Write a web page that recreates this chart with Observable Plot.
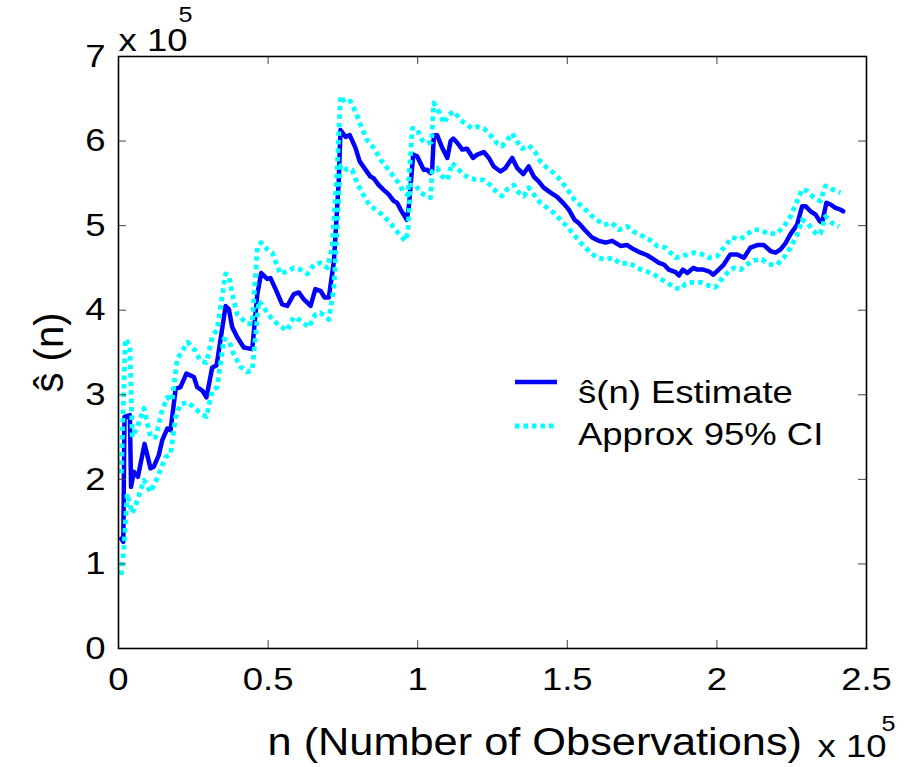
<!DOCTYPE html>
<html>
<head>
<meta charset="utf-8">
<script src="https://cdn.jsdelivr.net/npm/d3@7"></script>
<script src="https://cdn.jsdelivr.net/npm/@observablehq/plot@0.6"></script>
<style>
  html, body { margin: 0; padding: 0; background: #fff; }
  svg { display: block; }
</style>
</head>
<body>
<div id="chart"></div>
<script>
// ---- data (n in units of 1e5, s in units of 1e5) ----
const estN = [0.009,0.016,0.020,0.038,0.042,0.051,0.065,0.087,0.107,0.118,0.135,0.146,0.163,0.174,0.191,0.207,0.227,0.252,0.263,0.280,0.294,0.313,0.328,0.358,0.369,0.380,0.397,0.419,0.447,0.464,0.477,0.497,0.508,0.525,0.547,0.564,0.586,0.603,0.619,0.642,0.658,0.675,0.689,0.703,0.720,0.736,0.742,0.759,0.773,0.792,0.806,0.826,0.842,0.853,0.870,0.887,0.903,0.920,0.931,0.943,0.963,0.970,0.985,0.998,1.009,1.020,1.032,1.043,1.048,1.054,1.065,1.082,1.099,1.110,1.119,1.132,1.149,1.165,1.185,1.199,1.221,1.238,1.254,1.277,1.293,1.316,1.333,1.353,1.371,1.388,1.405,1.421,1.444,1.466,1.488,1.505,1.524,1.538,1.561,1.583,1.605,1.628,1.650,1.678,1.700,1.722,1.745,1.767,1.789,1.806,1.823,1.839,1.862,1.873,1.886,1.901,1.921,1.934,1.954,1.973,1.988,2.006,2.023,2.045,2.068,2.090,2.112,2.135,2.157,2.179,2.196,2.213,2.229,2.246,2.268,2.285,2.296,2.313,2.330,2.344,2.352,2.366,2.380,2.396,2.413,2.422];
const estS = [1.30,1.26,2.74,2.76,1.91,2.09,2.03,2.42,2.13,2.15,2.29,2.46,2.60,2.58,3.07,3.09,3.25,3.21,3.09,3.05,2.97,3.32,3.35,4.05,4.01,3.80,3.68,3.56,3.54,4.19,4.44,4.37,4.38,4.25,4.07,4.05,4.19,4.21,4.13,4.05,4.25,4.23,4.15,4.15,4.58,5.52,6.13,6.05,6.07,5.92,5.76,5.66,5.58,5.56,5.48,5.42,5.37,5.29,5.27,5.19,5.07,5.21,5.84,5.82,5.74,5.66,5.66,5.62,5.64,6.07,6.07,5.92,5.80,6.00,6.03,5.98,5.90,5.91,5.80,5.84,5.87,5.80,5.70,5.64,5.68,5.80,5.68,5.61,5.70,5.58,5.52,5.45,5.39,5.34,5.26,5.19,5.07,5.03,4.94,4.86,4.82,4.80,4.82,4.76,4.77,4.72,4.68,4.65,4.60,4.56,4.54,4.48,4.45,4.41,4.48,4.44,4.50,4.48,4.48,4.46,4.42,4.48,4.54,4.66,4.66,4.62,4.74,4.77,4.77,4.70,4.68,4.72,4.79,4.90,5.01,5.23,5.23,5.17,5.13,5.05,5.04,5.27,5.25,5.21,5.19,5.17];

const upN = [0.009,0.023,0.038,0.046,0.063,0.085,0.107,0.124,0.146,0.163,0.179,0.196,0.213,0.232,0.257,0.274,0.294,0.313,0.330,0.358,0.369,0.380,0.397,0.430,0.447,0.464,0.477,0.497,0.514,0.541,0.564,0.586,0.608,0.631,0.653,0.675,0.698,0.714,0.731,0.742,0.759,0.775,0.792,0.809,0.831,0.853,0.876,0.898,0.920,0.937,0.954,0.967,0.982,0.996,1.015,1.032,1.046,1.054,1.071,1.087,1.104,1.121,1.143,1.165,1.182,1.199,1.221,1.243,1.266,1.282,1.299,1.316,1.333,1.349,1.371,1.394,1.410,1.433,1.455,1.477,1.500,1.527,1.555,1.583,1.622,1.650,1.672,1.700,1.722,1.750,1.772,1.800,1.828,1.862,1.884,1.923,1.951,1.973,2.001,2.023,2.051,2.079,2.101,2.123,2.146,2.173,2.201,2.224,2.246,2.268,2.285,2.302,2.324,2.346,2.363,2.385,2.413];
const upS = [2.07,3.66,3.58,2.50,2.62,2.84,2.50,2.50,2.82,2.97,2.93,3.42,3.52,3.62,3.52,3.40,3.38,3.68,3.78,4.43,4.41,4.19,3.95,3.84,3.84,4.74,4.80,4.72,4.68,4.43,4.46,4.50,4.48,4.43,4.54,4.56,4.50,4.74,5.68,6.53,6.45,6.47,6.35,6.19,6.01,5.92,5.78,5.68,5.58,5.50,5.39,5.36,6.15,6.15,6.01,5.97,5.99,6.45,6.35,6.21,6.31,6.35,6.25,6.19,6.15,6.17,6.15,6.07,5.97,5.94,6.01,6.09,5.99,5.91,5.95,5.86,5.76,5.68,5.62,5.54,5.43,5.29,5.21,5.11,5.01,5.03,4.95,4.99,4.93,4.88,4.84,4.76,4.74,4.62,4.64,4.68,4.66,4.62,4.64,4.74,4.86,4.84,4.90,4.95,4.95,4.90,4.91,4.99,5.11,5.29,5.43,5.41,5.33,5.29,5.47,5.43,5.39];

const loN = [0.009,0.018,0.029,0.046,0.063,0.085,0.107,0.124,0.140,0.157,0.174,0.191,0.207,0.232,0.252,0.274,0.294,0.313,0.330,0.352,0.369,0.385,0.408,0.430,0.447,0.469,0.486,0.508,0.536,0.564,0.586,0.608,0.636,0.658,0.675,0.703,0.720,0.733,0.742,0.764,0.781,0.798,0.814,0.837,0.859,0.881,0.903,0.920,0.940,0.959,0.967,0.976,0.993,1.009,1.026,1.043,1.048,1.065,1.082,1.099,1.115,1.132,1.154,1.176,1.199,1.221,1.243,1.266,1.282,1.299,1.321,1.338,1.355,1.371,1.388,1.410,1.433,1.455,1.477,1.500,1.522,1.544,1.578,1.600,1.628,1.650,1.678,1.706,1.734,1.761,1.784,1.811,1.834,1.856,1.878,1.895,1.917,1.945,1.973,1.995,2.012,2.034,2.057,2.079,2.101,2.123,2.151,2.173,2.201,2.224,2.246,2.268,2.285,2.302,2.335,2.346,2.363,2.385,2.408];
const loS = [0.87,1.20,1.83,1.60,1.75,1.99,1.85,1.97,2.11,2.26,2.30,2.74,2.89,2.91,2.85,2.78,2.74,3.05,3.09,3.66,3.64,3.48,3.33,3.27,3.29,4.11,4.03,3.92,3.82,3.76,3.92,3.88,3.80,3.95,3.97,3.89,4.27,5.13,5.71,5.66,5.66,5.50,5.39,5.25,5.19,5.13,5.05,4.98,4.89,4.82,4.92,5.48,5.48,5.39,5.36,5.33,5.64,5.68,5.58,5.54,5.74,5.68,5.60,5.56,5.54,5.54,5.48,5.39,5.35,5.43,5.48,5.39,5.35,5.45,5.37,5.27,5.21,5.15,5.07,4.99,4.89,4.80,4.68,4.62,4.60,4.62,4.55,4.56,4.50,4.46,4.44,4.37,4.33,4.27,4.25,4.31,4.33,4.33,4.29,4.27,4.35,4.44,4.50,4.48,4.54,4.59,4.60,4.54,4.54,4.62,4.74,4.89,5.07,5.03,4.89,4.91,5.11,5.03,4.99];

const xTicks = [0, 0.5, 1, 1.5, 2, 2.5];
const yTicks = [0, 1, 2, 3, 4, 5, 6, 7];
const xLabel = ["n (Number of Observations)"];
const yLabel = ["ŝ (n)"];
const expBase = ["x 10"];
const expPow = ["5"];
const legendLabels = ["ŝ(n) Estimate", "Approx 95% CI"];

// ---- tables ----
const zip = (xs, ys) => xs.map((n, i) => ({n, s: ys[i]}));
const est = zip(estN, estS);
const upper = zip(upN, upS);
const lower = zip(loN, loS);

const W = 911, H = 767;
const mL = 118, mR = 45, mT = 56, mB = 119;
const innerH = H - mT - mB;
const innerW = W - mL - mR;
const tickLen = 8;
const FONT = "'Liberation Sans', Arial, Helvetica, sans-serif";
const BLUE = "#0000ff", CYAN = "#00ffff";
const ciDash = "4.5,4";

const plot = Plot.plot({
  width: W,
  height: H,
  marginLeft: mL,
  marginRight: mR,
  marginTop: mT,
  marginBottom: mB,
  style: {fontFamily: FONT, background: "#fff", color: "#000", overflow: "visible"},
  x: {domain: [0, 2.5]},
  y: {domain: [0, 7]},
  marks: [
    Plot.line(est, {x: "n", y: "s", stroke: BLUE, strokeWidth: 4.5, strokeLinejoin: "round"}),
    Plot.line(upper, {x: "n", y: "s", stroke: CYAN, strokeWidth: 4.8, strokeDasharray: ciDash, strokeLinecap: "butt"}),
    Plot.line(lower, {x: "n", y: "s", stroke: CYAN, strokeWidth: 4.8, strokeDasharray: ciDash, strokeLinecap: "butt"}),
    // inward ticks on all four sides
    Plot.ruleX(xTicks, {x: d => d, insetTop: innerH - tickLen, stroke: "#444", strokeWidth: 1}),
    Plot.ruleX(xTicks, {x: d => d, insetBottom: innerH - tickLen, stroke: "#444", strokeWidth: 1}),
    Plot.ruleY(yTicks, {y: d => d, insetRight: innerW - tickLen, stroke: "#444", strokeWidth: 1}),
    Plot.ruleY(yTicks, {y: d => d, insetLeft: innerW - tickLen, stroke: "#444", strokeWidth: 1}),
    Plot.frame({stroke: "#000", strokeWidth: 1.6}),
    Plot.axisX({ticks: xTicks, tickSize: 0, tickPadding: 19, fontSize: 32, tickFormat: d => String(d), label: null}),
    Plot.axisY({ticks: yTicks, tickSize: 0, tickPadding: 13, fontSize: 32, tickFormat: d => String(d), label: null}),
    Plot.text(xLabel, {text: d => d, frameAnchor: "bottom-left", dx: 149, dy: 94, textAnchor: "start", lineAnchor: "middle", fontSize: 38}),
    Plot.text(yLabel, {text: d => d, frameAnchor: "left", dx: -68, rotate: -90, textAnchor: "middle", lineAnchor: "middle", fontSize: 40}),
    Plot.text(expBase, {text: d => d, frameAnchor: "top-left", dx: 0, dy: -16, textAnchor: "start", lineAnchor: "middle", fontSize: 32}),
    Plot.text(expPow, {text: d => d, frameAnchor: "top-left", dx: 67, dy: -42, textAnchor: "middle", lineAnchor: "middle", fontSize: 22}),
    Plot.text(expBase, {text: d => d, frameAnchor: "bottom-left", dx: 699, dy: 98, textAnchor: "start", lineAnchor: "middle", fontSize: 32}),
    Plot.text(expPow, {text: d => d, frameAnchor: "bottom-left", dx: 770, dy: 75, textAnchor: "middle", lineAnchor: "middle", fontSize: 22})
  ]
});

document.getElementById("chart").appendChild(plot);

// ---- legend (inside axes, no box) ----
const svg = d3.select(plot);
const leg = svg.append("g")
  .attr("font-family", FONT).attr("font-size", 32).attr("fill", "#000")
  .attr("text-anchor", "start");
const legendItems = [
  {label: legendLabels[0], stroke: BLUE, width: 4.5, dash: null, ly: 382, ty: 403},
  {label: legendLabels[1], stroke: CYAN, width: 4.8, dash: ciDash, ly: 426, ty: 445}
];
for (const it of legendItems) {
  leg.append("line")
    .attr("x1", 515).attr("x2", 557).attr("y1", it.ly).attr("y2", it.ly)
    .attr("stroke", it.stroke).attr("stroke-width", it.width)
    .attr("stroke-dasharray", it.dash).attr("stroke-linecap", "butt");
  leg.append("text").attr("x", 578).attr("y", it.ty).attr("text-anchor", "start").text(it.label);
}

// ---- widen glyphs horizontally to match the reference's stretched text ----
const stretch = 1.14;
plot.querySelectorAll("text").forEach(t => {
  const tr = t.getAttribute("transform") || "";
  if (tr.includes("rotate")) return;
  const len = t.getComputedTextLength();
  if (len > 0) {
    t.setAttribute("textLength", (len * stretch).toFixed(1));
    t.setAttribute("lengthAdjust", "spacingAndGlyphs");
  }
});
</script>
</body>
</html>
